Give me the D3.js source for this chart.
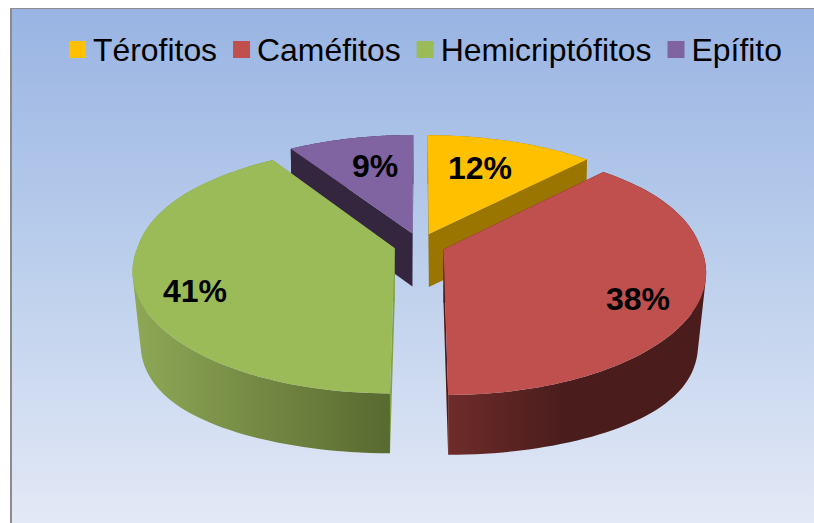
<!DOCTYPE html>
<html><head><meta charset="utf-8">
<script src="https://cdn.jsdelivr.net/npm/d3@7/dist/d3.min.js"></script>
<style>html,body{margin:0;padding:0;background:#fff}svg{display:block}</style>
</head><body><svg id="c" width="814" height="523"></svg>
<script>
const categories = ["Térofitos", "Caméfitos", "Hemicriptófitos", "Epífito"];
const values = [12, 38, 41, 9];
const labels = ["12%", "38%", "41%", "9%"];
const colors = ["#ffc000", "#c0504d", "#9bbb59", "#8064a2"];
const cutColors = ["#9a7500", "#4a1c1b", "#86a04c", "#35263f"];
const wallStops = [
  ["#9a7500", "#9a7500"],
  ["#6e2c2a", "#4a1d1c"],
  ["#8ea856", "#586a30"],
  ["#35263f", "#35263f"]
];

const W = 814, H = 523;
const svg = d3.select("#c");
const defs = svg.append("defs");
const bg = defs.append("linearGradient").attr("id", "bg").attr("x1", 0).attr("y1", 0).attr("x2", 0).attr("y2", 1);
bg.append("stop").attr("offset", 0).attr("stop-color", "#99b4e3");
bg.append("stop").attr("offset", 0.5).attr("stop-color", "#bccfec");
bg.append("stop").attr("offset", 1).attr("stop-color", "#e3e9f6");

svg.append("rect").attr("x", 12).attr("y", 9).attr("width", W - 12).attr("height", H - 9).attr("fill", "url(#bg)");
svg.append("rect").attr("x", 10).attr("y", 8).attr("width", 2).attr("height", H - 8).attr("fill", "#8c8c8c");
svg.append("rect").attr("x", 10).attr("y", 8).attr("width", W - 10).attr("height", 1).attr("fill", "#8c8c8c");

// perspective of the pie plane
const cx = 419.5, cy = 246.4, a = 257, b = 119.5, k = 0.16, explode = 0.1, apexLift = 1.5;
const scaleU = d3.scaleLinear().domain([0, 1]).range([0, a]);
const scaleV = d3.scaleLinear().domain([0, 1]).range([0, b]);
const widen = d3.scaleLinear().domain([0, -0.5]).range([1, 1.022]).clamp(true);
function project(u, v) {
  const w = 1 - k * v;
  return [cx + scaleU(u) * widen(v) / w, cy + scaleV(v) / w];
}
// the lower rim of the pie
const sy = 1.043, drop = 53.5, bulge = 17, pinch = 8, halfW = 286;
function lower(p) {
  const rel = (p[0] - cx) / halfW;
  const r3 = Math.pow(Math.abs(rel), 3);
  return [p[0] - pinch * Math.sign(rel) * r3, cy + (p[1] - cy) * sy + drop + bulge * r3];
}

const arcs = d3.pie().sort(null).value(d => d)(values);
const line = d3.line();

const slices = arcs.map((d, i) => {
  const mid = (d.startAngle + d.endAngle) / 2;
  const ou = explode * Math.sin(mid), ov = -explode * Math.cos(mid);
  const n = 80;
  const rim = d3.range(n + 1).map(j => {
    const t = d.startAngle + (d.endAngle - d.startAngle) * j / n;
    return project(ou + Math.sin(t), ov - Math.cos(t));
  });
  const ap = project(ou, ov);
  return { i, apex: [ap[0], ap[1] - apexLift], rim };
});

// back-to-front: Epífito, Térofitos, Hemicriptófitos, Caméfitos
[3, 0, 2, 1].forEach(i => {
  const s = slices[i];
  const g = svg.append("g").attr("class", "slice");
  const xs = s.rim.map(p => p[0]);
  const id = "w" + i;
  const lg = defs.append("linearGradient").attr("id", id).attr("gradientUnits", "userSpaceOnUse")
    .attr("x1", d3.min(xs)).attr("y1", 0)
    .attr("x2", i === 1 ? d3.min(xs) + 115 : d3.max(xs)).attr("y2", 0);
  lg.append("stop").attr("offset", 0).attr("stop-color", wallStops[i][0]);
  lg.append("stop").attr("offset", 1).attr("stop-color", wallStops[i][1]);

  const first = s.rim[0], last = s.rim[s.rim.length - 1];
  // two cut faces
  [first, last].forEach(p => {
    g.append("path")
      .attr("d", line([s.apex, p, lower(p), lower(s.apex)]) + "Z")
      .attr("fill", cutColors[i]);
  });
  // outer wall: quads with one winding in a single path, so the union has no seams
  const lo = s.rim.map(lower);
  const wall = d3.pairs(d3.range(s.rim.length)).map(([m, n]) => {
    const q = [s.rim[m], s.rim[n], lo[n], lo[m]];
    return line(d3.polygonArea(q) < 0 ? q.reverse() : q) + "Z";
  }).join("");
  g.append("path").attr("d", wall).attr("fill", "url(#" + id + ")").attr("fill-rule", "nonzero");
  // top face
  g.append("path")
    .attr("d", line([s.apex].concat(s.rim)) + "Z")
    .attr("fill", colors[i]);
});

// value labels
const labelSpots = [[480, 179], [638, 310], [195, 302], [375, 177]];
labels.forEach((t, i) => {
  svg.append("text").attr("x", labelSpots[i][0]).attr("y", labelSpots[i][1])
    .attr("text-anchor", "middle")
    .attr("font-family", "'Liberation Sans', Arial, sans-serif")
    .attr("font-weight", "bold").attr("font-size", 32).attr("fill", "#000").text(t);
});

// legend
let lx = 69;
categories.forEach((t, i) => {
  svg.append("rect").attr("x", lx).attr("y", 41).attr("width", 17).attr("height", 17).attr("fill", colors[i]);
  const txt = svg.append("text").attr("x", lx + 24).attr("y", 61)
    .attr("font-family", "'Liberation Sans', Arial, sans-serif")
    .attr("font-size", 31.9).attr("fill", "#000").text(t);
  lx += 24 + txt.node().getComputedTextLength() + 16;
});
</script></body></html>
